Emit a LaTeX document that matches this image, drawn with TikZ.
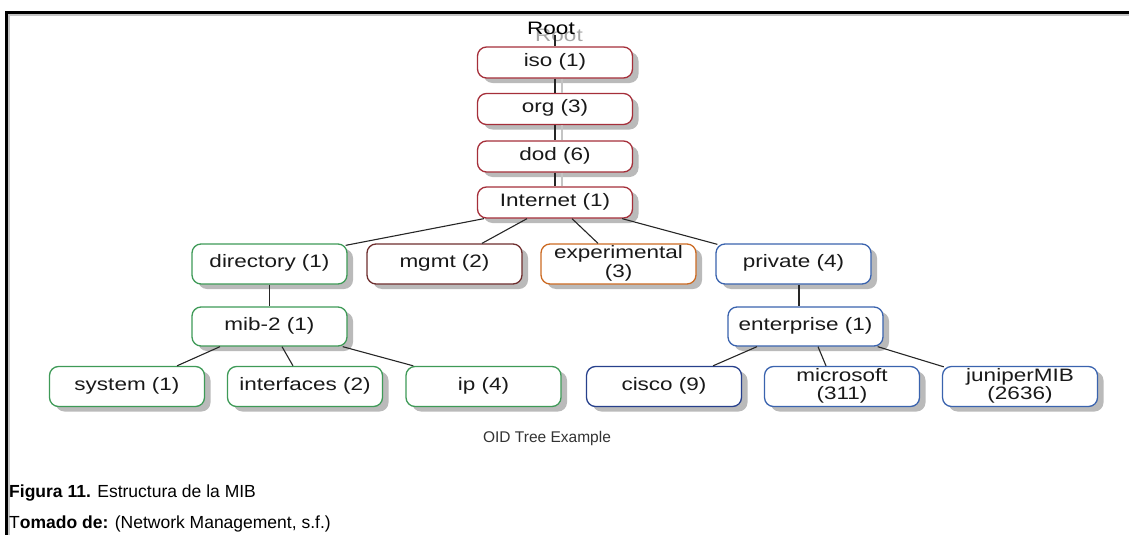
\documentclass[tikz,border=0pt]{standalone}
\usepackage{fontspec}
\setmainfont{Liberation Sans}
\usetikzlibrary{calc,shadows}

\definecolor{oidred}{HTML}{A52F3A}
\definecolor{oidmaroon}{HTML}{6E2E2E}
\definecolor{oidorange}{HTML}{CC6A22}
\definecolor{oidgreen}{HTML}{3E9A57}
\definecolor{oidblue}{HTML}{3A63AE}
\definecolor{oidnavy}{HTML}{27408C}
\definecolor{lineshade}{HTML}{C4C4C4}

% box labels are set slightly wide
\newcommand{\oidtext}[1]{\scalebox{1.25}[1]{\begin{tabular}{@{}c@{}}#1\end{tabular}}}

\begin{document}
\begin{tikzpicture}[x=1pt,y=-1pt,
  oid/.style={draw, line width=1.3pt, rounded corners=9pt, fill=white,
    minimum width=155pt, inner sep=0pt, text=black!90,
    font=\fontsize{18}{18}\selectfont,
    drop shadow={shadow xshift=6pt, shadow yshift=-5pt, fill=black!27, opacity=1}},
  top/.style={oid, draw=oidred, minimum height=31pt},
  mid/.style={oid, minimum height=40pt},
  low/.style={oid, minimum height=40pt},
  conn/.style={line width=1.1pt, draw=black!85},
  connshade/.style={line width=1.3pt, draw=lineshade},
  caption/.style={font=\fontsize{17.5}{18}\selectfont, anchor=base west, inner sep=0pt}]

\useasboundingbox (0,0) rectangle (1129,535);

% frame on the left and top
\draw[line width=1.5pt, lineshade] (9.2,535) -- (9.2,14.8) -- (1129,14.8);
\draw[line width=3pt, black] (6.6,535) -- (6.6,12.8) -- (1129,12.8);

% root label
\node[anchor=base, inner sep=0pt, text=black!35, font=\fontsize{18}{18}\selectfont] (rootghost) at (559,42) {\scalebox{1.25}[1]{Root}};
\node[anchor=base, inner sep=0pt, font=\fontsize{18}{18}\selectfont] (root) at (551,35) {\scalebox{1.25}[1]{Root}};

% boxes
\node[top] (iso)  at (555,62.5)  {\oidtext{iso (1)}};
\node[top] (org)  at (555,109)   {\oidtext{org (3)}};
\node[top] (dod)  at (555,156.5) {\oidtext{dod (6)}};
\node[top] (inet) at (555,202.5) {\oidtext{Internet (1)}};

\node[mid, draw=oidgreen]  (dir)  at (269.5,264) {\oidtext{directory (1)}};
\node[mid, draw=oidmaroon] (mgmt) at (444.5,264) {\oidtext{mgmt (2)}};
\node[mid, draw=oidorange] (exp)  at (618.5,264) {\oidtext{experimental\\(3)}};
\node[mid, draw=oidblue]   (priv) at (793.5,264) {\oidtext{private (4)}};

\node[oid, minimum height=39pt, draw=oidgreen] (mib) at (269.5,326.5) {\oidtext{mib-2 (1)}};
\node[oid, minimum height=39pt, draw=oidblue]  (ent) at (805.5,326.5) {\oidtext{enterprise (1)}};

\node[low, draw=oidgreen] (sys)   at (127,386.5)   {\oidtext{system (1)}};
\node[low, draw=oidgreen] (intf)  at (305,386.5)   {\oidtext{interfaces (2)}};
\node[low, draw=oidgreen] (ip)    at (483.5,386.5) {\oidtext{ip (4)}};
\node[low, draw=oidnavy]  (cisco) at (664,386.5)   {\oidtext{cisco (9)}};
\node[low, draw=oidblue]  (ms)    at (842,386.5)   {\oidtext{microsoft\\(311)}};
\node[low, draw=oidblue]  (jun)   at (1020,386.5)  {\oidtext{juniperMIB\\(2636)}};

% vertical chain with its shading
\begin{scope}[on background layer/.style={}]
\draw[connshade] ($(iso.south)+(7,0)$) -- ($(org.north)+(7,0)$);
\draw[connshade] ($(org.south)+(7,0)$) -- ($(dod.north)+(7,0)$);
\draw[connshade] ($(dod.south)+(7,0)$) -- ($(inet.north)+(7,0)$);
\end{scope}
\draw[conn] (root.south -| iso.north) -- (iso.north);
\draw[conn] (iso.south) -- (org.north);
\draw[conn] (org.south) -- (dod.north);
\draw[conn] (dod.south) -- (inet.north);

% Internet subtree
\draw[conn] ($(inet.south west)+(7,0)$) -- ($(dir.north east)+(-2,2)$);
\draw[conn] ($(inet.south)+(-28,0)$) -- ($(mgmt.north)+(37.5,0)$);
\draw[conn] ($(inet.south)+(17,0)$) -- ($(exp.north)+(-20.5,0)$);
\draw[conn] ($(inet.south east)+(-11,0)$) -- ($(priv.north west)+(2,1)$);

\draw[conn] (dir.south) -- (mib.north);
\coordinate (pd) at ($(priv.south)+(5.5,0)$);
\draw[conn] (pd) -- (pd |- ent.north);

% mib-2 subtree
\draw[conn] ($(mib.south)+(-49.5,0)$) -- ($(sys.north)+(50,0)$);
\draw[conn] ($(mib.south)+(12.5,0)$) -- ($(intf.north)+(-12,0)$);
\draw[conn] ($(mib.south east)+(-5,0)$) -- ($(ip.north west)+(8,0)$);

% enterprise subtree
\draw[conn] ($(ent.south)+(-48.5,0)$) -- ($(cisco.north)+(49,0)$);
\draw[conn] ($(ent.south)+(12.5,0)$) -- ($(ms.north)+(-16,0)$);
\draw[conn] ($(ent.south east)+(-6,0)$) -- ($(jun.north west)+(2,1)$);

% titles
\node[anchor=base, inner sep=0pt, text=black!80, font=\fontsize{15.5}{16}\selectfont] (title) at (547,442) {OID Tree Example};
\node[caption] (fig) at (9,497) {\textbf{Figura 11.} Estructura de la MIB};
\node[caption] (src) at (9,528) {T\textbf{omado de:} (Network Management, s.f.)};
\end{tikzpicture}
\end{document}
